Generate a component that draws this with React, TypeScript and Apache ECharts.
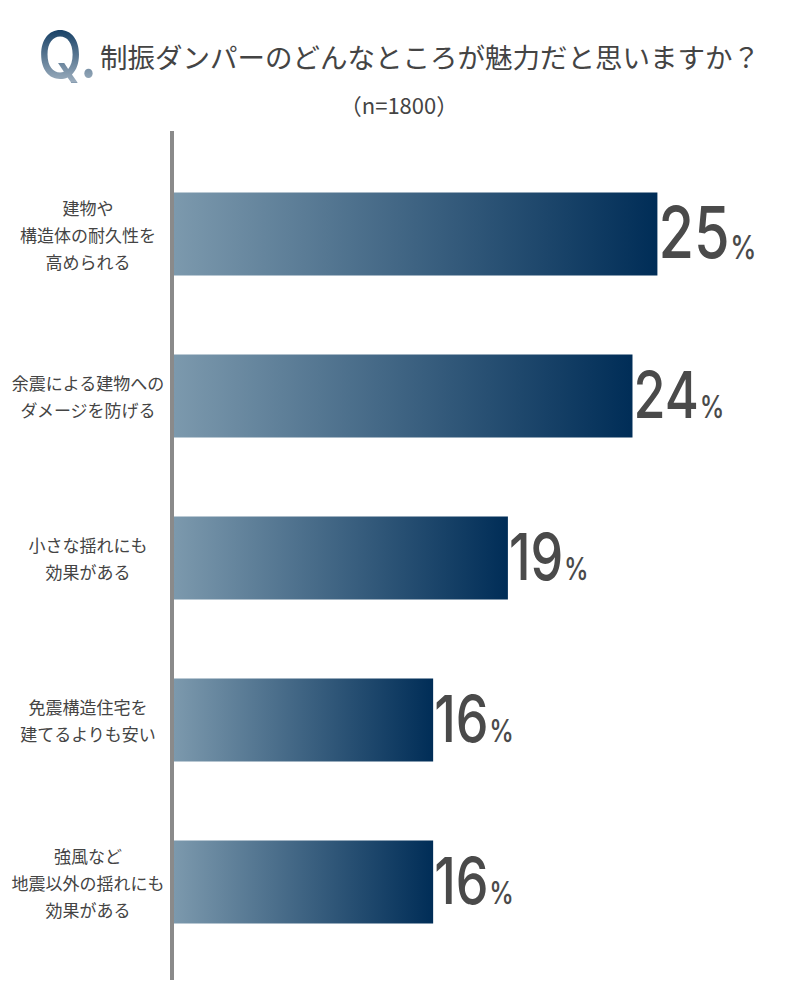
import React, { useEffect, useRef } from "react";
import * as echarts from "echarts";

const categories = [
  "建物や\n構造体の耐久性を\n高められる",
  "余震による建物への\nダメージを防げる",
  "小さな揺れにも\n効果がある",
  "免震構造住宅を\n建てるよりも安い",
  "強風など\n地震以外の揺れにも\n効果がある",
];
const values = [25, 24, 19, 16, 16];
const titleText = "制振ダンパーのどんなところが魅力だと思いますか？";
const subtitleText = "（n=1800）";

export default function App() {
  const ref = useRef<HTMLDivElement>(null);
  useEffect(() => {
    document.body.style.margin = "0";
    const chart = echarts.init(ref.current!, null, { renderer: "svg" });
    const numFont = "Inter, Roboto, sans-serif";
    const jpFont = '"Noto Sans CJK JP", sans-serif';
    const barGradient = new echarts.graphic.LinearGradient(0, 0, 1, 0, [
      { offset: 0, color: "#7c99ad" },
      { offset: 1, color: "#002d57" },
    ]);
    const fadeGradient = new echarts.graphic.LinearGradient(0, 0, 0, 1, [
      { offset: 0, color: "rgba(255,255,255,0)" },
      { offset: 1, color: "rgba(255,255,255,0.58)" },
    ]);
    chart.setOption({
      animation: false,
      backgroundColor: "#ffffff",
      grid: { left: 174, right: 18, top: 153, bottom: 37 },
      xAxis: { type: "value", min: 5.6, max: 30, show: false },
      yAxis: {
        type: "category",
        data: categories,
        inverse: true,
        axisLine: { show: false },
        axisTick: { show: false },
        splitLine: { show: false },
        axisLabel: {
          margin: 86,
          align: "center",
          color: "#444444",
          fontSize: 17,
          lineHeight: 27,
          fontFamily: jpFont,
        },
      },
      series: [
        {
          type: "bar",
          clip: true,
          barWidth: 83,
          itemStyle: { color: barGradient },
          data: values,
        },
        {
          type: "custom",
          silent: true,
          clip: false,
          z: 5,
          data: values.map((v, i) => [v, i]),
          encode: { x: 0, y: 1 },
          renderItem: (params: any, api: any) => {
            const v = api.value(0);
            const idx = api.value(1);
            const pt = api.coord([v, idx]);
            const big = params.dataIndex === 0;
            return {
              type: "text",
              x: pt[0] + 1,
              y: pt[1] - 2,
              scaleX: 0.8,
              style: {
                text: `{n|${v}}{p|%}`,
                align: "left",
                verticalAlign: "middle",
                rich: {
                  n: {
                    fontSize: big ? 72 : 65,
                    fontFamily: numFont,
                    fontWeight: 500,
                    fill: "#4a4a4a",
                    verticalAlign: "bottom",
                  },
                  p: {
                    fontSize: big ? 33 : 31,
                    fontFamily: numFont,
                    fontWeight: 500,
                    fill: "#4a4a4a",
                    verticalAlign: "bottom",
                    padding: [0, 0, big ? 5 : 4, 1],
                  },
                },
              },
            };
          },
        },
      ],
      graphic: [
        {
          type: "line",
          shape: { x1: 172, y1: 131, x2: 172, y2: 980 },
          style: { stroke: "#8a8a8a", lineWidth: 4 },
          z: 10,
        },
        {
          type: "text",
          x: 38,
          y: 55,
          scaleX: 0.9,
          z: 1,
          style: {
            text: "Q.",
            font: `500 64px ${numFont}`,
            fill: "#133d63",
            textVerticalAlign: "middle",
          },
        },
        {
          type: "rect",
          z: 2,
          shape: { x: 34, y: 28, width: 64, height: 54 },
          style: { fill: fadeGradient },
        },
        {
          type: "text",
          x: 100,
          y: 56,
          z: 3,
          style: {
            text: titleText,
            font: `normal 27.5px ${jpFont}`,
            fill: "#444444",
            textVerticalAlign: "middle",
          },
        },
        {
          type: "text",
          x: 399,
          y: 104,
          style: {
            text: subtitleText,
            font: `normal 22px ${jpFont}`,
            fill: "#444444",
            textAlign: "center",
            textVerticalAlign: "middle",
          },
        },
      ],
    });
    return () => chart.dispose();
  }, []);
  return <div ref={ref} style={{ width: 800, height: 1000 }} />;
}
